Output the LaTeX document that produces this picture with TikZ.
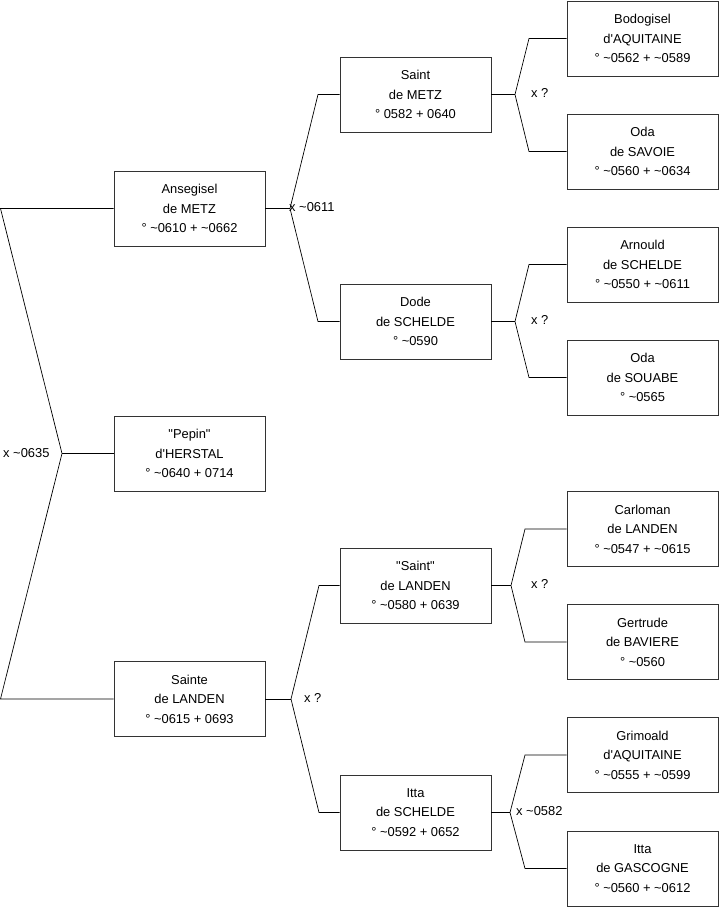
\documentclass[tikz,border=0pt]{standalone}
\usepackage{fontspec}
\setmainfont{Liberation Sans}[Ligatures=TeXOff]
\begin{document}
\begin{tikzpicture}[x=1pt,y=-1pt,
  person/.style={draw=black!80,line width=0.8pt,minimum width=151pt,minimum height=75pt,inner sep=0pt,align=center,font=\fontsize{12.9}{19.5}\selectfont},
  link/.style={draw=black,line width=0.7pt},
  mlabel/.style={anchor=west,inner sep=0pt,font=\fontsize{12.9}{15}\selectfont}]
\useasboundingbox (0,0) rectangle (719,908);
% column 1
\node[person] (anse) at (189.5,208.5) {Ansegisel\\de METZ\\° \textasciitilde0610 + \textasciitilde0662};
\node[person] (pepin) at (189.5,453.5) {"Pepin"\\d'HERSTAL\\° \textasciitilde0640 + 0714};
\node[person] (sainte) at (189.5,699) {Sainte\\de LANDEN\\° \textasciitilde0615 + 0693};
% column 2
\node[person] (smetz) at (415.5,94.5) {Saint\\de METZ\\° 0582 + 0640};
\node[person] (dode) at (415.5,321.5) {Dode\\de SCHELDE\\° \textasciitilde0590};
\node[person] (slanden) at (415.5,585.5) {"Saint"\\de LANDEN\\° \textasciitilde0580 + 0639};
\node[person] (ittas) at (415.5,812.5) {Itta\\de SCHELDE\\° \textasciitilde0592 + 0652};
% column 3
\node[person] (bodo) at (642.5,38.5) {Bodogisel\\d'AQUITAINE\\° \textasciitilde0562 + \textasciitilde0589};
\node[person] (odasav) at (642.5,151.5) {Oda\\de SAVOIE\\° \textasciitilde0560 + \textasciitilde0634};
\node[person] (arn) at (642.5,264.5) {Arnould\\de SCHELDE\\° \textasciitilde0550 + \textasciitilde0611};
\node[person] (odasou) at (642.5,377.5) {Oda\\de SOUABE\\° \textasciitilde0565};
\node[person] (carl) at (642.5,529) {Carloman\\de LANDEN\\° \textasciitilde0547 + \textasciitilde0615};
\node[person] (gert) at (642.5,642) {Gertrude\\de BAVIERE\\° \textasciitilde0560};
\node[person] (grim) at (642.5,755) {Grimoald\\d'AQUITAINE\\° \textasciitilde0555 + \textasciitilde0599};
\node[person] (ittag) at (642.5,868.5) {Itta\\de GASCOGNE\\° \textasciitilde0560 + \textasciitilde0612};
% junctions
\coordinate (j0) at (62,453.5);
\coordinate (j0a) at (0.5,208.5);
\coordinate (j0b) at (0.5,699);
\coordinate (j1) at (290,208.5);
\coordinate (j1a) at (318,94.5);
\coordinate (j1b) at (318,321.5);
\coordinate (j2) at (515,94.5);
\coordinate (j2a) at (529,38.5);
\coordinate (j2b) at (529,151.5);
\coordinate (j3) at (515,321.5);
\coordinate (j3a) at (529,264.5);
\coordinate (j3b) at (529,377.5);
\coordinate (j4) at (291,699);
\coordinate (j4a) at (319,585.5);
\coordinate (j4b) at (319,812.5);
\coordinate (j5) at (511,585.5);
\coordinate (j5a) at (525,529);
\coordinate (j5b) at (525,642);
\coordinate (j6) at (510,812.5);
\coordinate (j6a) at (525,755);
\coordinate (j6b) at (525,868.5);
% connectors
\draw[link] (anse.west) -- (j0a) -- (j0) -- (j0b) -- (sainte.west);
\draw[link] (j0) -- (pepin.west);
\draw[link] (anse.east) -- (j1);
\draw[link] (smetz.west) -- (j1a) -- (j1) -- (j1b) -- (dode.west);
\draw[link] (smetz.east) -- (j2);
\draw[link] (bodo.west) -- (j2a) -- (j2) -- (j2b) -- (odasav.west);
\draw[link] (dode.east) -- (j3);
\draw[link] (arn.west) -- (j3a) -- (j3) -- (j3b) -- (odasou.west);
\draw[link] (sainte.east) -- (j4);
\draw[link] (slanden.west) -- (j4a) -- (j4) -- (j4b) -- (ittas.west);
\draw[link] (slanden.east) -- (j5);
\draw[link] (carl.west) -- (j5a) -- (j5) -- (j5b) -- (gert.west);
\draw[link] (ittas.east) -- (j6);
\draw[link] (grim.west) -- (j6a) -- (j6) -- (j6b) -- (ittag.west);
% labels
\node[mlabel] (l0) at (3,453) {x \textasciitilde0635};
\node[mlabel] (l1) at (289,207) {x \textasciitilde0611};
\node[mlabel] (l2) at (531,93) {x ?};
\node[mlabel] (l3) at (531,320) {x ?};
\node[mlabel] (l4) at (304,698) {x ?};
\node[mlabel] (l5) at (531,584) {x ?};
\node[mlabel] (l6) at (516,811) {x \textasciitilde0582};
\end{tikzpicture}
\end{document}
